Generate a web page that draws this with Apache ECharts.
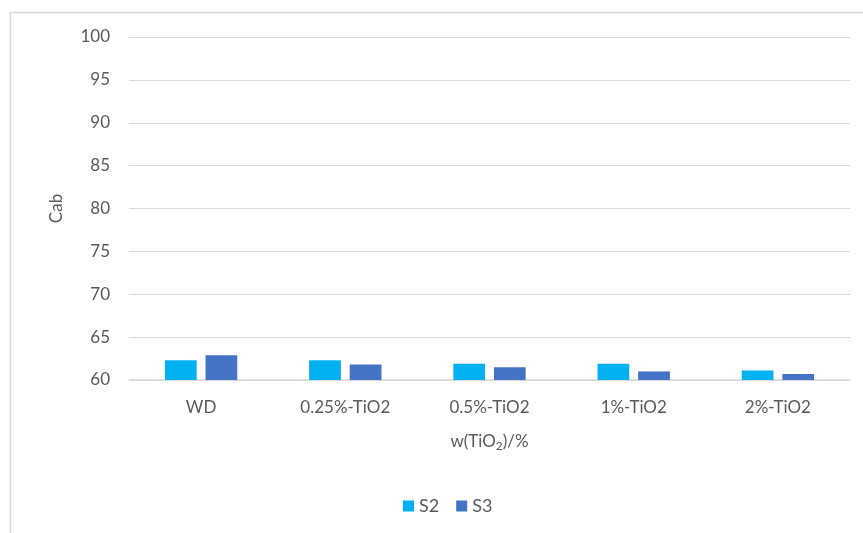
<!DOCTYPE html>
<html>
<head>
<meta charset="utf-8">
<script src="https://cdn.jsdelivr.net/npm/echarts@6/dist/echarts.min.js"></script>
<style>
  html, body { margin: 0; padding: 0; background: #fff; }
  #chart { width: 863px; height: 533px; }
</style>
</head>
<body>
<div id="chart"></div>
<script>
// Cab values for each TiO2 content, two series
const categories = ['WD', '0.25%-TiO2', '0.5%-TiO2', '1%-TiO2', '2%-TiO2'];
const seriesNames = ['S2', 'S3'];
const s2Values = [62.3, 62.3, 61.9, 61.9, 61.1];
const s3Values = [62.9, 61.8, 61.5, 61.0, 60.7];
const yTicks = { min: 60, max: 100, interval: 5 };

const textColor = '#595959';
const lineColor = '#d9d9d9';
const fontFamily = 'Lato, "Noto Sans", sans-serif';

const chart = echarts.init(document.getElementById('chart'));
chart.setOption({
  backgroundColor: '#ffffff',
  animation: false,
  textStyle: { fontFamily: fontFamily, color: textColor },
  graphic: [{
    type: 'rect',
    shape: { x: 10.5, y: 12.5, width: 900, height: 600 },
    style: { fill: 'none', stroke: lineColor, lineWidth: 1.5 },
    silent: true
  }],
  grid: { left: 129, right: 13, top: 37, bottom: 153 },
  legend: {
    data: seriesNames,
    bottom: 13,
    left: 398,
    icon: 'rect',
    itemWidth: 11,
    itemHeight: 11,
    itemGap: 17,
    textStyle: { color: textColor, fontSize: 18, fontFamily: fontFamily }
  },
  xAxis: {
    type: 'category',
    data: categories,
    name: 'w(TiO{sub|2})/%',
    nameLocation: 'middle',
    nameGap: 52,
    nameTextStyle: {
      color: textColor, fontSize: 17, fontFamily: fontFamily,
      rich: { sub: { fontSize: 12, verticalAlign: 'bottom', padding: [8, 0, 0, 0], color: textColor, fontFamily: fontFamily } }
    },
    axisLine: { lineStyle: { color: lineColor, width: 1.5 } },
    axisTick: { show: false },
    axisLabel: { color: textColor, fontSize: 17, margin: 19 }
  },
  yAxis: {
    type: 'value',
    min: yTicks.min,
    max: yTicks.max,
    interval: yTicks.interval,
    name: 'Cab',
    nameLocation: 'middle',
    nameGap: 64,
    nameRotate: 90,
    nameTextStyle: { color: textColor, fontSize: 17, fontFamily: fontFamily },
    axisLine: { show: false },
    axisTick: { show: false },
    axisLabel: { color: textColor, fontSize: 17, margin: 19 },
    splitLine: { lineStyle: { color: lineColor, width: 1 } }
  },
  series: [
    {
      name: seriesNames[0], type: 'bar', data: s2Values,
      barWidth: '22%', barGap: '28%',
      itemStyle: { color: '#00b0f0' }
    },
    {
      name: seriesNames[1], type: 'bar', data: s3Values,
      barWidth: '22%',
      itemStyle: { color: '#4472c4' }
    }
  ]
});
</script>
</body>
</html>
